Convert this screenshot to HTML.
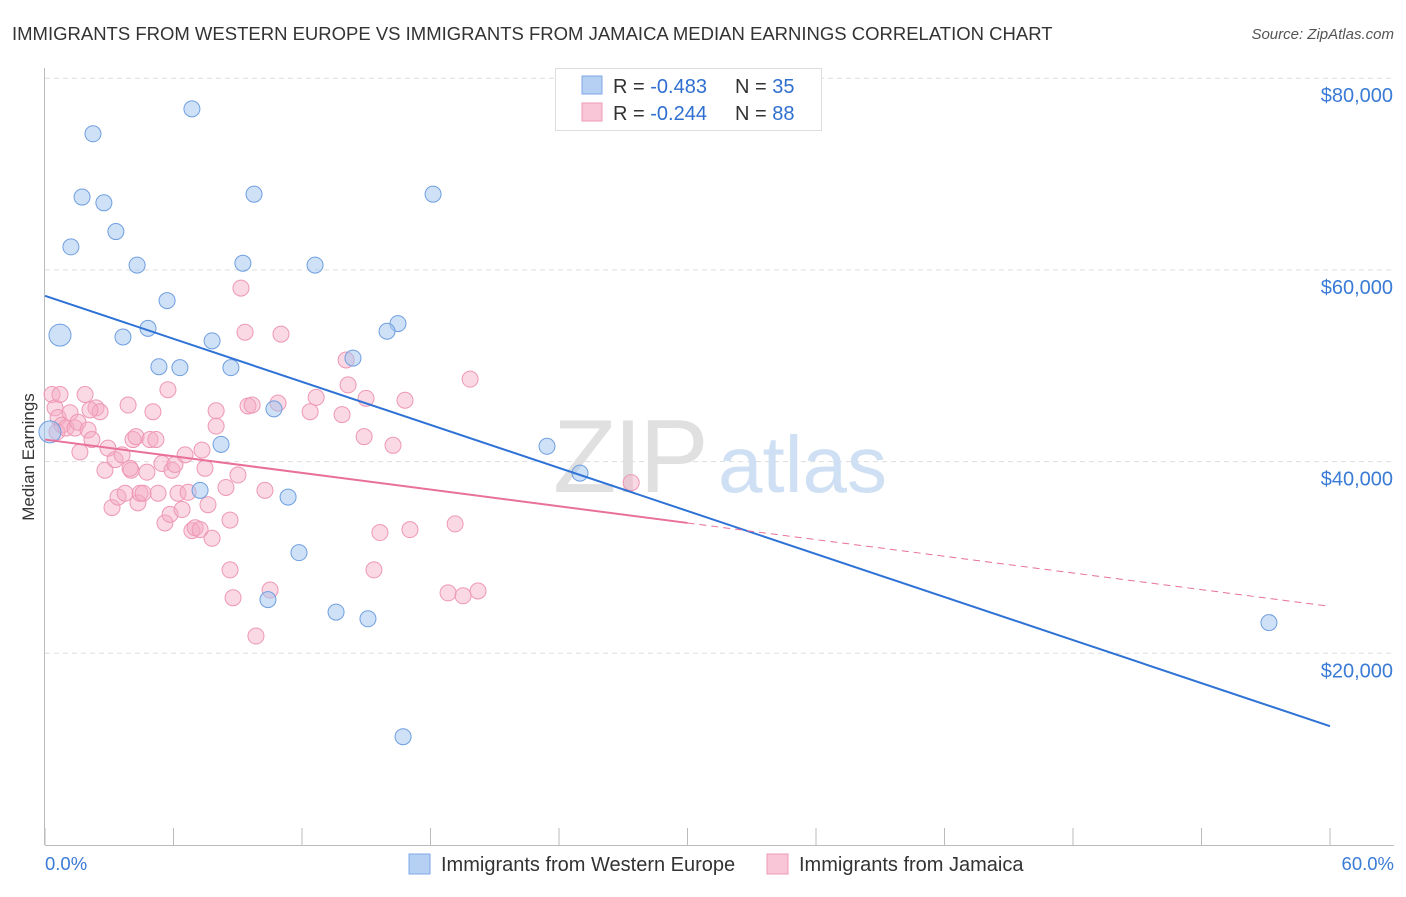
<!DOCTYPE html>
<html><head><meta charset="utf-8"><style>
body{margin:0;background:#fff;font-family:"Liberation Sans",sans-serif;}
svg text{font-family:"Liberation Sans",sans-serif;}
</style></head><body>
<svg id="c" width="1406" height="892" xmlns="http://www.w3.org/2000/svg">
<text x="12" y="40" font-size="18.5" fill="#333">IMMIGRANTS FROM WESTERN EUROPE VS IMMIGRANTS FROM JAMAICA MEDIAN EARNINGS CORRELATION CHART</text>
<text x="1394" y="39" font-size="15" fill="#555" font-style="italic" text-anchor="end">Source: ZipAtlas.com</text>
<g id="grid"></g>
<g>
<text x="553" y="492" font-size="104" font-family="Liberation Serif" fill="#e0e0e0" letter-spacing="-3">ZIP</text>
<text x="718" y="492" font-size="80" fill="#cfe0f4">atlas</text>
</g>
<text transform="translate(34,457) rotate(-90)" font-size="17" fill="#333" text-anchor="middle">Median Earnings</text>
<g id="marks"></g>
<g id="lines"></g>
<g>
<rect x="555.5" y="68.5" width="266" height="62" fill="#fff" stroke="#ddd"/>
<rect x="582" y="76" width="20" height="18" fill="#b6d0f4" stroke="#7fa9e6"/>
<rect x="582" y="103" width="20" height="18" fill="#f8c6d6" stroke="#ee9ab5"/>
<text x="613" y="93" font-size="20" fill="#333">R = <tspan fill="#2f6fd0">-0.483</tspan><tspan x="735">N = </tspan><tspan fill="#2f6fd0">35</tspan></text>
<text x="613" y="120" font-size="20" fill="#333">R = <tspan fill="#2f6fd0">-0.244</tspan><tspan x="735">N = </tspan><tspan fill="#2f6fd0">88</tspan></text>
</g>
<text x="45" y="870" font-size="18.5" fill="#3a7bd5">0.0%</text>
<text x="1394" y="870" font-size="18.5" fill="#3a7bd5" text-anchor="end">60.0%</text>
<g>
<rect x="409" y="854" width="21" height="20" fill="#b6d0f4" stroke="#7fa9e6"/>
<text x="441" y="871" font-size="20" fill="#333">Immigrants from Western Europe</text>
<rect x="767" y="854" width="21" height="20" fill="#f8c6d6" stroke="#ee9ab5"/>
<text x="799" y="871" font-size="20" fill="#333">Immigrants from Jamaica</text>
</g>
</svg>
<script>
const yTicks=[20000,40000,60000,80000];
const yTickLabels=["$20,000","$40,000","$60,000","$80,000"];
const xTicks=[0,6,12,18,24,30,36,42,48,54,60];
const blueX=[0.70,0.23,2.24,6.86,1.73,2.75,3.31,1.21,4.30,9.76,9.24,12.61,18.12,5.70,4.81,3.64,7.80,5.32,6.30,8.68,16.48,15.97,14.38,10.69,8.22,23.44,24.98,7.24,11.35,11.86,10.41,13.59,15.08,16.72,57.15];
const blueY=[53.2,43.1,74.2,76.8,67.6,67.0,64.0,62.4,60.5,67.9,60.7,60.5,67.9,56.8,53.9,53.0,52.6,49.9,49.8,49.8,54.4,53.6,50.8,45.5,41.8,41.6,38.8,37.0,36.3,30.5,25.6,24.3,23.6,11.3,23.2];
const pinkX=[0.33,0.47,0.61,0.79,0.56,0.98,1.17,1.40,1.54,1.87,2.01,1.63,2.38,2.57,2.19,2.80,2.94,3.13,3.27,3.41,3.60,3.74,3.88,4.02,4.11,4.25,4.34,4.44,4.58,4.76,4.90,5.04,5.18,5.28,5.46,5.60,5.74,5.84,5.93,6.07,6.21,6.40,6.54,6.68,6.86,7.01,7.24,7.47,7.61,7.80,7.99,7.99,8.45,8.64,8.64,8.78,9.01,9.15,9.34,9.48,9.67,9.85,10.27,10.51,10.88,11.02,12.38,12.66,13.87,14.06,14.15,14.90,14.99,15.36,15.64,16.25,16.81,17.04,18.82,19.15,19.52,19.85,20.22,27.37,2.10,0.70,7.33,3.97];
const pinkY=[47.0,45.6,44.6,43.8,43.1,43.5,45.1,43.5,44.1,47.0,43.3,41.0,45.6,45.2,42.3,39.1,41.4,35.2,40.2,36.3,40.7,36.7,45.9,39.1,42.3,42.6,35.7,36.7,36.7,38.9,42.3,45.2,42.3,36.7,39.8,33.6,47.5,34.5,39.1,39.7,36.7,35.0,40.7,36.8,32.8,33.1,32.9,39.3,35.5,32.0,43.7,45.3,37.3,33.9,28.7,25.8,38.6,58.1,53.5,45.8,45.9,21.8,37.0,26.6,46.1,53.3,45.2,46.7,44.9,50.6,48.0,42.6,46.6,28.7,32.6,41.7,46.4,32.9,26.3,33.5,26.0,48.6,26.5,37.8,45.4,47.0,41.2,39.3];
const blueLine=[57.3,12.4];
const pinkLine=[42.3,33.6,24.9];
const NS='http://www.w3.org/2000/svg';
const X=v=>45+v/60*1285;
const Y=v=>845-v/20000*191.7;
function mk(t,a,p){const e=document.createElementNS(NS,t);for(const k in a)e.setAttribute(k,a[k]);p.appendChild(e);return e;}
const grid=document.getElementById('grid');
yTicks.forEach((t,i)=>{
 const l=mk('line',{x1:45,x2:1394,y1:Y(t),y2:Y(t),stroke:'#ddd','stroke-dasharray':'5,4'},grid);
 
 
 const tx=mk('text',{x:1393,y:Y(t)+24,'font-size':20,fill:'#3a7bd5','text-anchor':'end'},grid);
 tx.textContent=yTickLabels[i];
 
 
});
mk('line',{x1:44.5,x2:44.5,y1:68,y2:845,stroke:'#bbb'},grid);
mk('line',{x1:45,x2:1394,y1:845.5,y2:845.5,stroke:'#bbb'},grid);
xTicks.forEach(t=>{
 const l=mk('line',{x1:X(t),x2:X(t),y1:828,y2:845,stroke:'#bbb'},grid);
 
 
});
const marks=document.getElementById('marks');
pinkX.forEach((x,i)=>{
 const c=mk('circle',{cx:X(x),cy:Y(pinkY[i]*1000),r:8,fill:'rgba(245,170,195,0.45)',stroke:'#ee98b3','stroke-width':1},marks);
 
 
});
blueX.forEach((x,i)=>{
 const c=mk('circle',{cx:X(x),cy:Y(blueY[i]*1000),r:(i<2?11:8),fill:'rgba(160,195,240,0.5)',stroke:'#6f9fe0','stroke-width':1},marks);
 
 
});
const lines=document.getElementById('lines');
const bl=mk('line',{x1:X(0),y1:Y(blueLine[0]*1000),x2:X(60),y2:Y(blueLine[1]*1000),stroke:'#2f72d6','stroke-width':2},lines);


const pl=mk('line',{x1:X(0),y1:Y(pinkLine[0]*1000),x2:X(30),y2:Y(pinkLine[1]*1000),stroke:'#e8709a','stroke-width':2},lines);


const pd=mk('line',{x1:X(30),y1:Y(pinkLine[1]*1000),x2:X(60),y2:Y(pinkLine[2]*1000),stroke:'#e8709a','stroke-width':1,'stroke-dasharray':'7,5'},lines);


</script>
</body></html>
